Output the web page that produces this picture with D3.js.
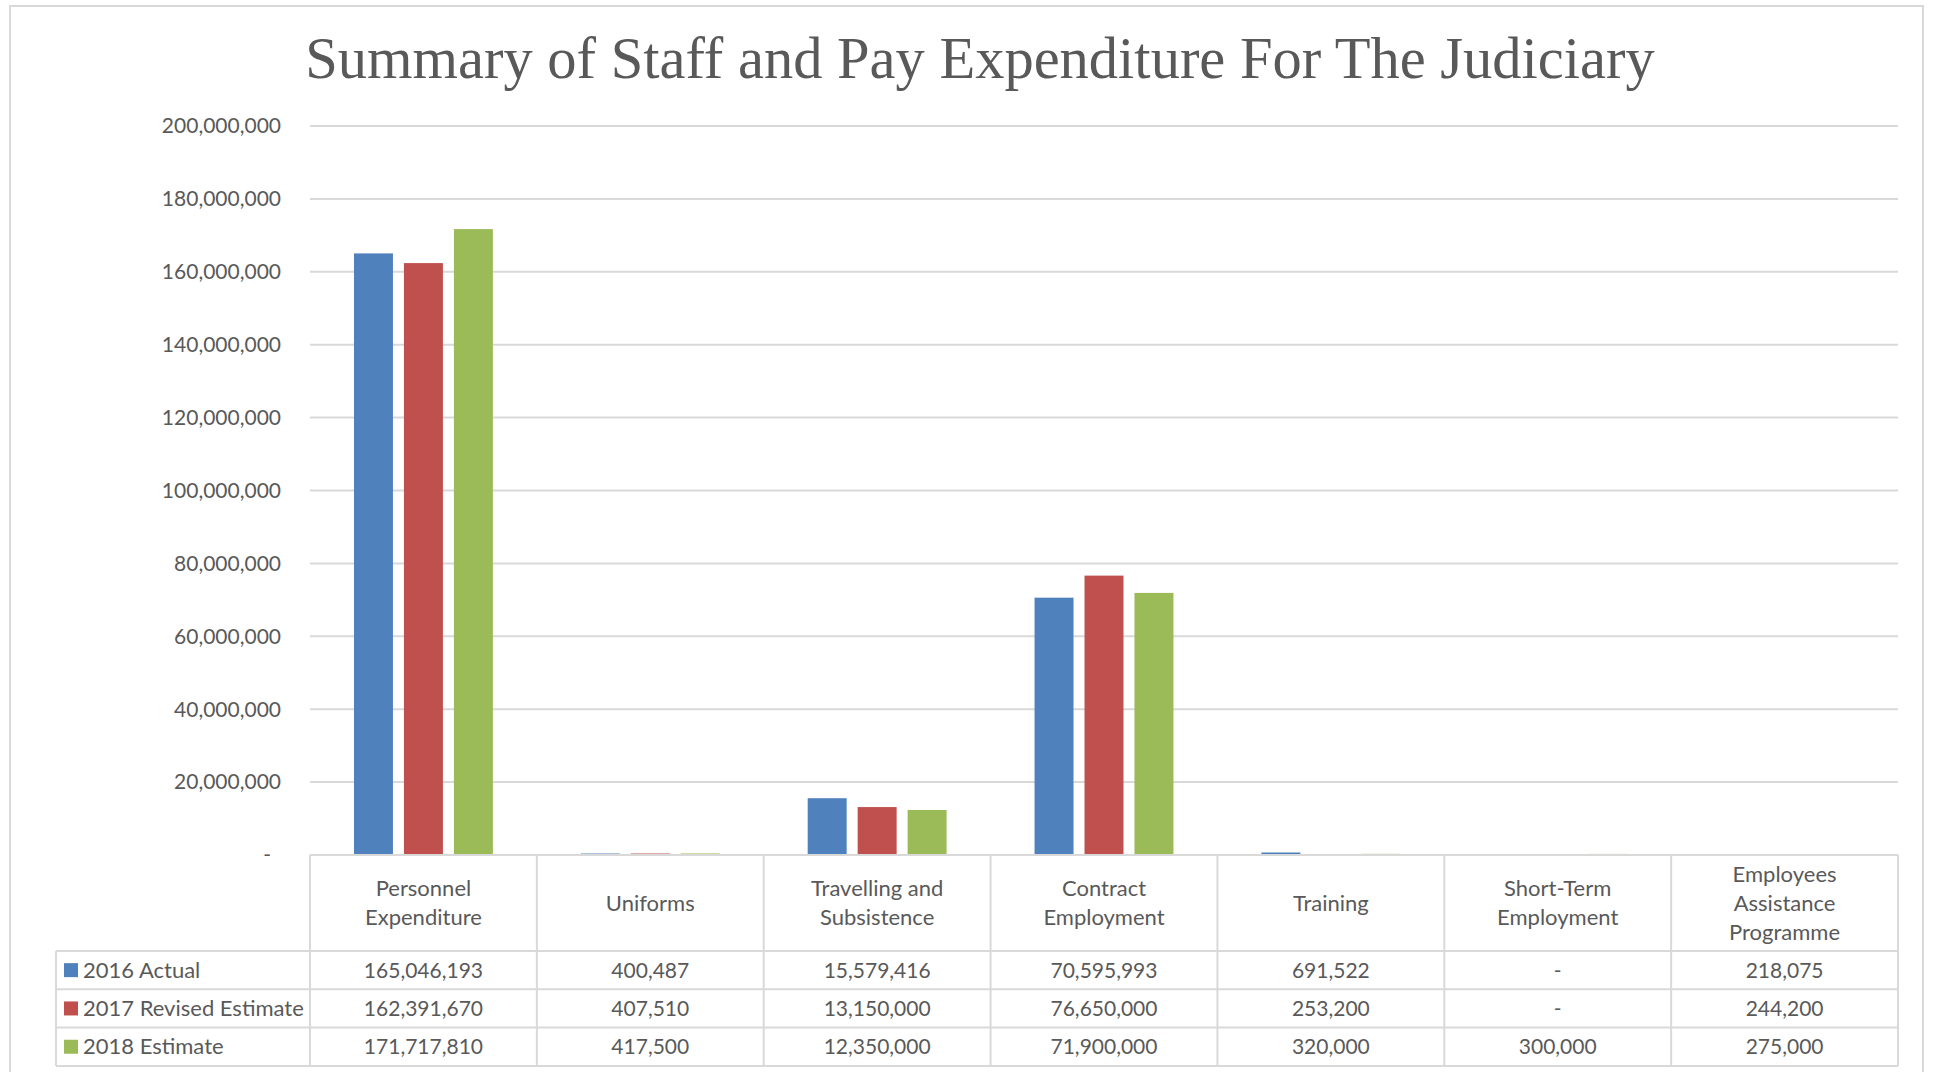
<!DOCTYPE html>
<html>
<head>
<meta charset="utf-8">
<script src="https://cdn.jsdelivr.net/npm/d3@7/dist/d3.min.js"></script>
<style>
  html, body { margin: 0; padding: 0; background: #ffffff; }
  svg { display: block; }
</style>
</head>
<body>
<svg id="chart" width="1933" height="1072"></svg>
<script>
// ---- Data ----
const title = "Summary of Staff and Pay Expenditure For The Judiciary";
const categories = [
  ["Personnel", "Expenditure"],
  ["Uniforms"],
  ["Travelling and", "Subsistence"],
  ["Contract", "Employment"],
  ["Training"],
  ["Short-Term", "Employment"],
  ["Employees", "Assistance", "Programme"]
];
const seriesNames = ["2016 Actual", "2017 Revised Estimate", "2018 Estimate"];
const actual2016 = [165046193, 400487, 15579416, 70595993, 691522, null, 218075];
const revised2017 = [162391670, 407510, 13150000, 76650000, 253200, null, 244200];
const estimate2018 = [171717810, 417500, 12350000, 71900000, 320000, 300000, 275000];
const yTicks = [0, 20000000, 40000000, 60000000, 80000000, 100000000, 120000000, 140000000, 160000000, 180000000, 200000000];
const colors = ["#4F81BD", "#C0504D", "#9BBB59"];

const seriesValues = [actual2016, revised2017, estimate2018];

// ---- Layout ----
const svg = d3.select("#chart");
const plotLeft = 310, plotRight = 1898, plotTop = 126, plotBottom = 855;
const headerH = 96, rowH = 38.3;
const tableLeft = 56;
const textColor = "#595959";
const gridColor = "#d9d9d9";
const font = "Lato, 'Open Sans', sans-serif";

// outer border
svg.append("rect").attr("x", 10).attr("y", 6).attr("width", 1913).attr("height", 1070)
  .attr("fill", "none").attr("stroke", gridColor).attr("stroke-width", 2);

// title
svg.append("text").attr("x", 980).attr("y", 78).attr("text-anchor", "middle")
  .attr("font-family", "'Liberation Serif', 'DejaVu Serif', serif").attr("font-size", 58.5)
  .attr("fill", textColor).text(title);

const catIdx = categories.map((c, i) => i);
const x0 = d3.scaleBand().domain(catIdx).range([plotLeft, plotRight]).padding(0);
const x1 = d3.scaleBand().domain(d3.range(seriesNames.length)).range([0, x0.bandwidth()])
  .paddingInner(0.22).paddingOuter(0.88);
const y = d3.scaleLinear().domain([0, 200000000]).range([plotBottom, plotTop]);

// gridlines
svg.append("g").selectAll("line").data(yTicks.filter(d => d > 0)).join("line")
  .attr("x1", plotLeft).attr("x2", plotRight)
  .attr("y1", d => y(d)).attr("y2", d => y(d))
  .attr("stroke", gridColor).attr("stroke-width", 2);

// y labels
const fmt = d3.format(",");
svg.append("g").selectAll("text").data(yTicks).join("text")
  .attr("x", d => d === 0 ? 271 : 281)
  .attr("y", d => y(d))
  .attr("dy", "0.35em")
  .attr("text-anchor", "end")
  .attr("font-family", font).attr("font-size", 21).attr("fill", textColor)
  .text(d => d === 0 ? "-" : fmt(d));

// bars
const barData = [];
seriesValues.forEach((vals, s) => vals.forEach((v, c) => barData.push({ s, c, v: v || 0 })));
svg.append("g").selectAll("rect").data(barData).join("rect")
  .attr("x", d => x0(d.c) + x1(d.s))
  .attr("width", x1.bandwidth())
  .attr("y", d => y(d.v))
  .attr("height", d => plotBottom - y(d.v))
  .attr("fill", d => colors[d.s]);

// ---- Data table ----
const tg = svg.append("g");
const rowTop = i => plotBottom + headerH + i * rowH;
const tableBottom = rowTop(seriesNames.length);
const lineStyle = sel => sel.attr("stroke", gridColor).attr("stroke-width", 2);

// horizontal lines
tg.append("line").attr("x1", plotLeft).attr("x2", plotRight).attr("y1", plotBottom).attr("y2", plotBottom).call(lineStyle);
for (let i = 0; i <= seriesNames.length; i++) {
  tg.append("line").attr("x1", tableLeft).attr("x2", plotRight).attr("y1", rowTop(i)).attr("y2", rowTop(i)).call(lineStyle);
}
// vertical lines
tg.append("line").attr("x1", tableLeft).attr("x2", tableLeft).attr("y1", rowTop(0)).attr("y2", tableBottom).call(lineStyle);
catIdx.concat([categories.length]).forEach(i => {
  const xx = i < categories.length ? x0(i) : plotRight;
  tg.append("line").attr("x1", xx).attr("x2", xx).attr("y1", plotBottom).attr("y2", tableBottom).call(lineStyle);
});

// header labels
const lineH = 29;
categories.forEach((lines, i) => {
  const cx = x0(i) + x0.bandwidth() / 2;
  const cy = plotBottom + headerH / 2;
  lines.forEach((ln, k) => {
    tg.append("text").attr("x", cx).attr("y", cy + (k - (lines.length - 1) / 2) * lineH)
      .attr("dy", "0.35em").attr("text-anchor", "middle")
      .attr("font-family", font).attr("font-size", 22).attr("fill", textColor).text(ln);
  });
});

// rows
seriesNames.forEach((name, s) => {
  const cy = rowTop(s) + rowH / 2;
  tg.append("rect").attr("x", 64).attr("y", cy - 7).attr("width", 14).attr("height", 14).attr("fill", colors[s]);
  tg.append("text").attr("x", 83).attr("y", cy).attr("dy", "0.35em")
    .attr("font-family", font).attr("font-size", 22).attr("fill", textColor).text(name);
  seriesValues[s].forEach((v, c) => {
    tg.append("text").attr("x", x0(c) + x0.bandwidth() / 2).attr("y", cy).attr("dy", "0.35em")
      .attr("text-anchor", "middle")
      .attr("font-family", font).attr("font-size", 21).attr("fill", textColor)
      .text(v === null ? "-" : fmt(v));
  });
});
</script>
</body>
</html>
